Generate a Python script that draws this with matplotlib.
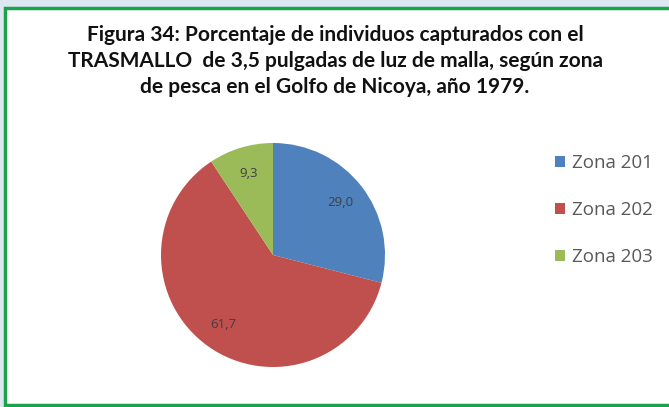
import matplotlib
matplotlib.use("Agg")
import matplotlib.pyplot as plt
from matplotlib.patches import Rectangle

categories = ["Zona 201", "Zona 202", "Zona 203"]
values = [29.0, 61.7, 9.3]
colors = ["#4f81bd", "#c0504d", "#9bbb59"]
title = ("Figura 34: Porcentaje de individuos capturados con el\n"
         "TRASMALLO  de 3,5 pulgadas de luz de malla, según zona\n"
         "de pesca en el Golfo de Nicoya, año 1979.")

W, H = 669, 407
fig = plt.figure(figsize=(W / 100, H / 100), dpi=100)
fig.patch.set_facecolor("#dde7f1")

# white panel with green frame
fig.patches.append(Rectangle((5 / W, 2 / H), (W + 10) / W, (H - 7.5) / H - 2 / H,
                             transform=fig.transFigure, facecolor="white",
                             edgecolor="#1aa34a", linewidth=2.5, zorder=-5))

cx, cy, r = 273, 407 - 255, 112
ax = fig.add_axes([(cx - r) / W, (cy - r) / H, 2 * r / W, 2 * r / H], zorder=2)
ax.patch.set_visible(False)
wedges, texts, autotexts = ax.pie(
    values, colors=colors, startangle=90, counterclock=False, radius=1,
    autopct=lambda p: f"{p:.1f}".replace(".", ","), pctdistance=0.76,
    textprops=dict(fontsize=9.5, color="#404040", family="Open Sans"),
    wedgeprops=dict(linewidth=0))
ax.set_xlim(-1, 1)
ax.set_ylim(-1, 1)
ax.set_aspect("equal")
ax.axis("off")

fig.text(335 / W, 1 - 61 / H, title, ha="center", va="center",
         fontsize=15, fontweight="bold", family="Lato", color="#111111",
         linespacing=1.4, zorder=3)

leg = fig.legend(wedges, categories, loc="upper left",
                 bbox_to_anchor=(538 / W, 1 - 137 / H), frameon=False,
                 prop=dict(family="Open Sans", size=13.5),
                 labelcolor="#595959", handlelength=0.55, handleheight=0.55,
                 handletextpad=0.35, labelspacing=1.55)
leg.set_zorder(3)

fig.savefig("out.png", dpi=100, facecolor=fig.get_facecolor())
